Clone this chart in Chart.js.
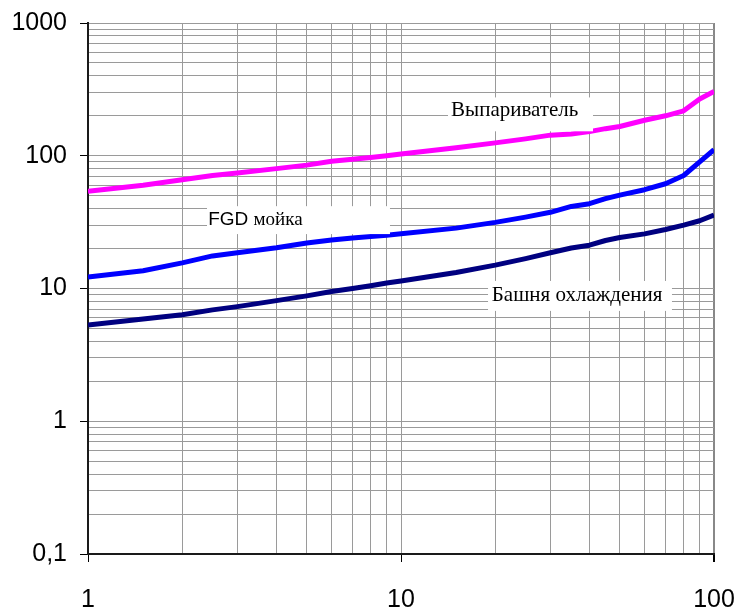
<!DOCTYPE html>
<html>
<head>
<meta charset="utf-8">
<script src="https://cdn.jsdelivr.net/npm/chart.js@4"></script>
<style>
  html, body { margin: 0; padding: 0; background: #fff; }
  #wrap { width: 740px; height: 608px; }
</style>
</head>
<body>
<div id="wrap"><canvas id="c" width="740" height="608"></canvas></div>
<script>
// ---- data ----
const xValues = [1, 1.5, 2, 2.5, 3, 4, 5, 6, 7, 8, 9, 10, 15, 20, 25, 30, 35, 40, 45, 50, 60, 70, 80, 90, 100];
const evaporator = [54, 60, 66, 71, 74, 80, 85, 91, 94, 97, 100, 103, 115, 125, 134, 143, 146, 152, 160, 166, 185, 200, 218, 268, 305];
const fgdScrubber = [12.2, 13.6, 15.6, 17.6, 18.6, 20.3, 22, 23.2, 24, 24.6, 25.2, 25.8, 28.5, 31.5, 34.5, 37.5, 41.5, 43.5, 47.5, 50.5, 55.5, 61.5, 71, 90, 111];
const coolingTower = [5.3, 5.9, 6.35, 6.9, 7.3, 8.1, 8.8, 9.5, 10.0, 10.5, 11.0, 11.4, 13.2, 15.0, 16.8, 18.6, 20.2, 21.2, 23.0, 24.2, 25.8, 27.8, 30.0, 32.4, 35.8];
const seriesNames = ['Выпариватель', 'FGD мойка', 'Башня охлаждения'];
const xTickLabels = ['1', '10', '100'];
const yTickLabels = ['0,1', '1', '10', '100', '1000'];

// ---- helpers ----
function decadeTicks(min, max) {
  const t = [];
  for (let d = min; d < max; d *= 10) {
    for (let m = 1; m <= 9; m++) t.push(+(d * m).toPrecision(6));
  }
  t.push(max);
  return t;
}
function isDecade(v) {
  const l = Math.log10(v);
  return Math.abs(l - Math.round(l)) < 1e-9;
}
function pts(ys) { return xValues.map((x, i) => ({ x: x, y: ys[i] })); }

const xDecades = [1, 10, 100];
const yDecades = [0.1, 1, 10, 100, 1000];

// text boxes placed in data coordinates
const annotations = [
  { parts: [{ t: seriesNames[0], f: '21px "Liberation Serif"' }], box: [14.13, 41.06, 275, 152.8], tx: 14.45, ty: 198 },
  { parts: [{ t: 'FGD ', f: '19px "Liberation Sans"' }, { t: 'мойка', f: '19px "Liberation Serif"' }], box: [2.40, 9.22, 41.7, 25.7], tx: 2.42, ty: 30.0 },
  { parts: [{ t: seriesNames[2], f: '21px "Liberation Serif"' }], box: [18.97, 73.4, 11.4, 6.78], tx: 19.5, ty: 8.05 }
];

const labelPlugin = {
  id: 'labelBoxes',
  afterDatasetsDraw(chart) {
    const { ctx, scales: { x, y } } = chart;
    ctx.save();
    annotations.forEach(a => {
      const x0 = x.getPixelForValue(a.box[0]), x1 = x.getPixelForValue(a.box[1]);
      const y0 = y.getPixelForValue(a.box[2]), y1 = y.getPixelForValue(a.box[3]);
      ctx.fillStyle = '#ffffff';
      ctx.fillRect(x0, y0, x1 - x0, y1 - y0);
      let px = x.getPixelForValue(a.tx);
      const py = y.getPixelForValue(a.ty);
      ctx.fillStyle = '#000000';
      ctx.textBaseline = 'alphabetic';
      ctx.textAlign = 'left';
      a.parts.forEach(p => {
        ctx.font = p.f;
        ctx.fillText(p.t, px, py);
        px += ctx.measureText(p.t).width;
      });
    });
    ctx.restore();
  }
};

const lineStyle = { pointRadius: 0, borderWidth: 5, tension: 0, fill: false, borderJoinStyle: 'round' };

new Chart(document.getElementById('c'), {
  type: 'line',
  data: {
    datasets: [
      Object.assign({ label: seriesNames[0], data: pts(evaporator), borderColor: '#ff00ff' }, lineStyle),
      Object.assign({ label: seriesNames[1], data: pts(fgdScrubber), borderColor: '#0000ff' }, lineStyle),
      Object.assign({ label: seriesNames[2], data: pts(coolingTower), borderColor: '#000080' }, lineStyle)
    ]
  },
  options: {
    responsive: false,
    animation: false,
    layout: { padding: { top: 23, right: 26, left: 0, bottom: 0 } },
    plugins: { legend: { display: false }, tooltip: { enabled: false } },
    scales: {
      x: {
        type: 'logarithmic',
        min: 1, max: 100,
        afterBuildTicks: s => { s.ticks = decadeTicks(1, 100).map(v => ({ value: v })); },
        afterFit: s => { s.height = 54; s.paddingLeft = 0; s.paddingRight = 0; },
        ticks: {
          autoSkip: false, maxRotation: 0, padding: 23,
          color: '#000', font: { family: '"Liberation Sans", Arial, sans-serif', size: 25 },
          callback: v => { const i = xDecades.indexOf(v); return i >= 0 ? xTickLabels[i] : ''; }
        },
        grid: {
          color: c => (c.tick && c.tick.value === 100) ? '#888' : '#9a9a9a',
          lineWidth: c => (c.tick && c.tick.value === 100) ? 2 : 1,
          tickLength: 8,
          tickColor: c => (c.tick && isDecade(c.tick.value)) ? '#000' : 'rgba(0,0,0,0)'
        },
        border: { color: '#1a1a1a', width: 2 }
      },
      y: {
        type: 'logarithmic',
        min: 0.1, max: 1000,
        afterBuildTicks: s => { s.ticks = decadeTicks(0.1, 1000).map(v => ({ value: v })); },
        afterFit: s => { s.width = 88; s.paddingTop = 0; s.paddingBottom = 0; },
        ticks: {
          autoSkip: false, padding: 13,
          color: '#000', font: { family: '"Liberation Sans", Arial, sans-serif', size: 25 },
          callback: v => { const i = yDecades.findIndex(d => Math.abs(d - v) < 1e-9); return i >= 0 ? yTickLabels[i] : ''; }
        },
        grid: {
          color: '#9a9a9a',
          lineWidth: 1,
          tickLength: 8,
          tickColor: c => (c.tick && isDecade(c.tick.value)) ? '#000' : 'rgba(0,0,0,0)'
        },
        border: { color: '#1a1a1a', width: 2 }
      }
    }
  },
  plugins: [labelPlugin]
});
</script>
</body>
</html>
